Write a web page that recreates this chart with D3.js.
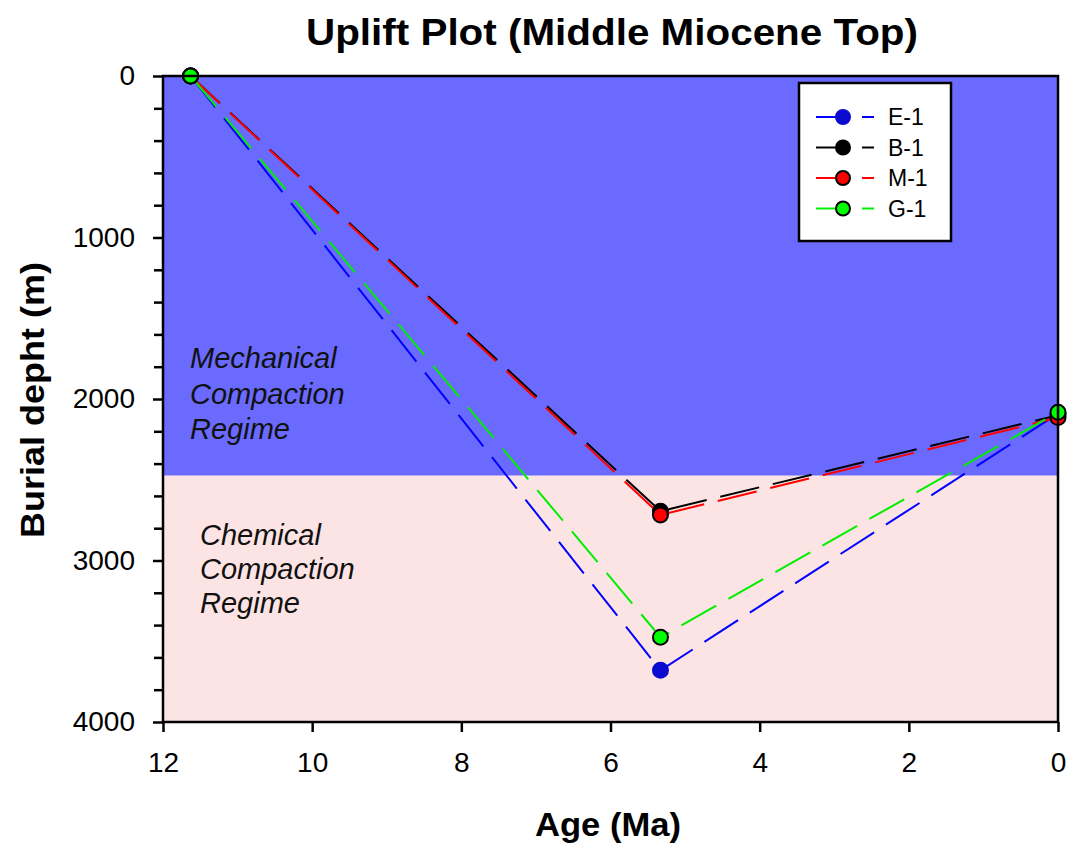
<!DOCTYPE html>
<html>
<head>
<meta charset="utf-8">
<script src="https://cdn.jsdelivr.net/npm/d3@7"></script>
<style>
  body { margin: 0; background: #fff; }
  svg { display: block; font-family: "Liberation Sans", Arial, sans-serif; }
</style>
</head>
<body>
<svg id="chart" width="1068" height="847"></svg>
<script>
// Burial history of the Middle Miocene top in four wells
const ages = [11.63, 5.33, 0];
const seriesNames = ["E-1", "B-1", "M-1", "G-1"];
const depthE1 = [0, 3680, 2090];
const depthB1 = [0, 2695, 2100];
const depthM1 = [0, 2718, 2115];
const depthG1 = [0, 3475, 2082];
const lineColors = ["#0000ff", "#000000", "#ff0000", "#00ee00"];
const markerFills = ["#0a0ad0", "#000000", "#ff0000", "#00ff00"];
const markerStrokes = ["#0a0ad0", "#000000", "#000000", "#000000"];
const regimeBoundary = 2475; // m, mechanical -> chemical compaction
const xTicks = [12, 10, 8, 6, 4, 2, 0];
const yTicks = [0, 1000, 2000, 3000, 4000];

const series = [depthE1, depthB1, depthM1, depthG1].map((d, i) => ({
  name: seriesNames[i],
  values: ages.map((a, j) => ({ age: a, depth: d[j] })),
  line: lineColors[i], fill: markerFills[i], stroke: markerStrokes[i]
}));

const svg = d3.select("#chart");
const m = { left: 163, right: 1058, top: 76, bottom: 722 };
const x = d3.scaleLinear().domain([12, 0]).range([m.left, m.right]);
const y = d3.scaleLinear().domain([0, 4000]).range([m.top, m.bottom]);

// compaction regimes
svg.append("rect").attr("x", m.left).attr("y", y(0))
  .attr("width", m.right - m.left).attr("height", y(regimeBoundary) - y(0))
  .attr("fill", "#6a6aff");
svg.append("rect").attr("x", m.left).attr("y", y(regimeBoundary))
  .attr("width", m.right - m.left).attr("height", y(4000) - y(regimeBoundary))
  .attr("fill", "#fde4e4");

const italic = (lines, x0, y0, step) => {
  const t = svg.append("text").attr("x", x0).attr("y", y0)
    .attr("font-size", 29).attr("font-style", "italic").attr("fill", "#111");
  lines.forEach((s, i) => t.append("tspan").attr("x", x0).attr("dy", i === 0 ? 0 : step).text(s));
};
italic(["Mechanical", "Compaction", "Regime"], 190, 368, 35.5);
italic(["Chemical", "Compaction", "Regime"], 200, 545, 34);

// series
const lineGen = d3.line().x(d => x(d.age)).y(d => y(d.depth));
series.forEach(s => {
  svg.append("path").datum(s.values).attr("d", lineGen)
    .attr("fill", "none").attr("stroke", s.line).attr("stroke-width", 2)
    .attr("stroke-dasharray", "40,14");
});
series.forEach(s => {
  svg.selectAll(null).data(s.values).enter().append("circle")
    .attr("cx", d => x(d.age)).attr("cy", d => y(d.depth)).attr("r", 7.5)
    .attr("fill", s.fill).attr("stroke", s.stroke).attr("stroke-width", 2);
});

// frame
svg.append("rect").attr("x", m.left).attr("y", m.top)
  .attr("width", m.right - m.left).attr("height", m.bottom - m.top)
  .attr("fill", "none").attr("stroke", "#000").attr("stroke-width", 2.5);

// axes
const xAxis = svg.append("g").attr("transform", `translate(0,${m.bottom})`)
  .call(d3.axisBottom(x).tickValues(xTicks).tickSize(10).tickPadding(20).tickFormat(d3.format("d")));
const yAxis = svg.append("g").attr("transform", `translate(${m.left},0)`)
  .call(d3.axisLeft(y).tickValues(yTicks).tickSize(10).tickPadding(18).tickFormat(d3.format("d")));
svg.append("g").attr("transform", `translate(${m.left},0)`)
  .call(d3.axisLeft(y).tickValues(d3.range(200, 4000, 200).filter(v => v % 1000 !== 0))
    .tickSize(9).tickFormat(""))
  .call(g => g.select(".domain").remove());
[xAxis, yAxis].forEach(g => {
  g.select(".domain").remove();
  g.selectAll("text").attr("font-size", 28).attr("fill", "#000")
    .attr("font-family", "Liberation Sans, Arial, sans-serif");
});
svg.selectAll(".tick line").attr("stroke", "#000").attr("stroke-width", 2.5);

// titles
svg.append("text").attr("x", 612).attr("y", 45).attr("text-anchor", "middle")
  .attr("font-size", 36).attr("font-weight", "bold")
  .attr("textLength", 612).attr("lengthAdjust", "spacingAndGlyphs")
  .text("Uplift Plot (Middle Miocene Top)");
svg.append("text").attr("x", 608).attr("y", 836).attr("text-anchor", "middle")
  .attr("font-size", 33).attr("font-weight", "bold")
  .attr("textLength", 146).attr("lengthAdjust", "spacingAndGlyphs")
  .text("Age (Ma)");
svg.append("text").attr("transform", "translate(44,400) rotate(-90)").attr("text-anchor", "middle")
  .attr("font-size", 33).attr("font-weight", "bold")
  .attr("textLength", 276).attr("lengthAdjust", "spacingAndGlyphs")
  .text("Burial depht (m)");

// legend
const lg = svg.append("g");
lg.append("rect").attr("x", 799).attr("y", 83).attr("width", 152).attr("height", 158)
  .attr("fill", "#fff").attr("stroke", "#000").attr("stroke-width", 2.5);
series.forEach((s, i) => {
  const yy = 117 + i * 30.5;
  lg.append("line").attr("x1", 816).attr("x2", 840).attr("y1", yy).attr("y2", yy)
    .attr("stroke", s.line).attr("stroke-width", 2);
  lg.append("line").attr("x1", 862).attr("x2", 874).attr("y1", yy).attr("y2", yy)
    .attr("stroke", s.line).attr("stroke-width", 2);
  lg.append("circle").attr("cx", 843).attr("cy", yy).attr("r", 7)
    .attr("fill", s.fill).attr("stroke", s.stroke).attr("stroke-width", 2);
  lg.append("text").attr("x", 888).attr("y", yy + 8).attr("font-size", 23).text(s.name);
});
</script>
</body>
</html>
